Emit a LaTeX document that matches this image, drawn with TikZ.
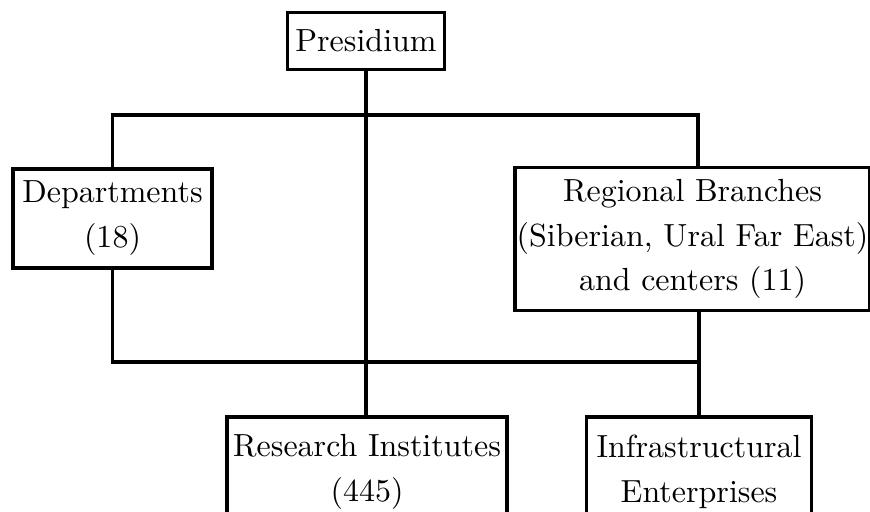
\documentclass[tikz,border=0pt]{standalone}
\usepackage{tikz}
\usetikzlibrary{positioning,calc}

\newlength\pxu
\setlength\pxu{0.0112cm}

\begin{document}
\begin{tikzpicture}[
  x=\pxu, y=-\pxu,
  unit/.style={rectangle,draw,line width=1.1pt,inner xsep=0.5pt,inner ysep=2pt,align=center,font=\fontsize{10.2pt}{14.3pt}\selectfont},
  link/.style={line width=1.1pt},
]
\useasboundingbox (0,0) rectangle (870,511);
\clip (0,0) rectangle (870,511);

% Top of the tree
\node[unit,minimum width=157\pxu,minimum height=57\pxu] (pres) at (366,41) {Presidium};

% Second level
\node[unit,minimum width=199\pxu,minimum height=99\pxu] (dept) at (112.5,218.5) {Departments\\(18)};
\node[unit,minimum width=351\pxu,minimum height=143\pxu] (regio) at (692.5,239) {Regional Branches\\(Siberian, Ural Far East)\\and centers (11)};

% Third level (cut at the bottom edge)
\node[unit,minimum width=280\pxu,minimum height=110\pxu] (inst) at (367,472) {Research Institutes\\(445)};
\node[unit,minimum width=225\pxu,minimum height=110\pxu] (infra) at (699,472) {Infrastructural\\Enterprises};

% Bus lines
\coordinate (ubus) at (698,115);
\coordinate (lbus) at (699,362);

\draw[link] (pres.south) -- (pres.south |- inst.north);
\draw[link] (dept.north) |- (ubus) -- (ubus |- regio.north);
\draw[link] (dept.south) |- (lbus) -- (infra.north);
\draw[link] (regio.south -| lbus) -- (lbus);

\end{tikzpicture}
\end{document}
